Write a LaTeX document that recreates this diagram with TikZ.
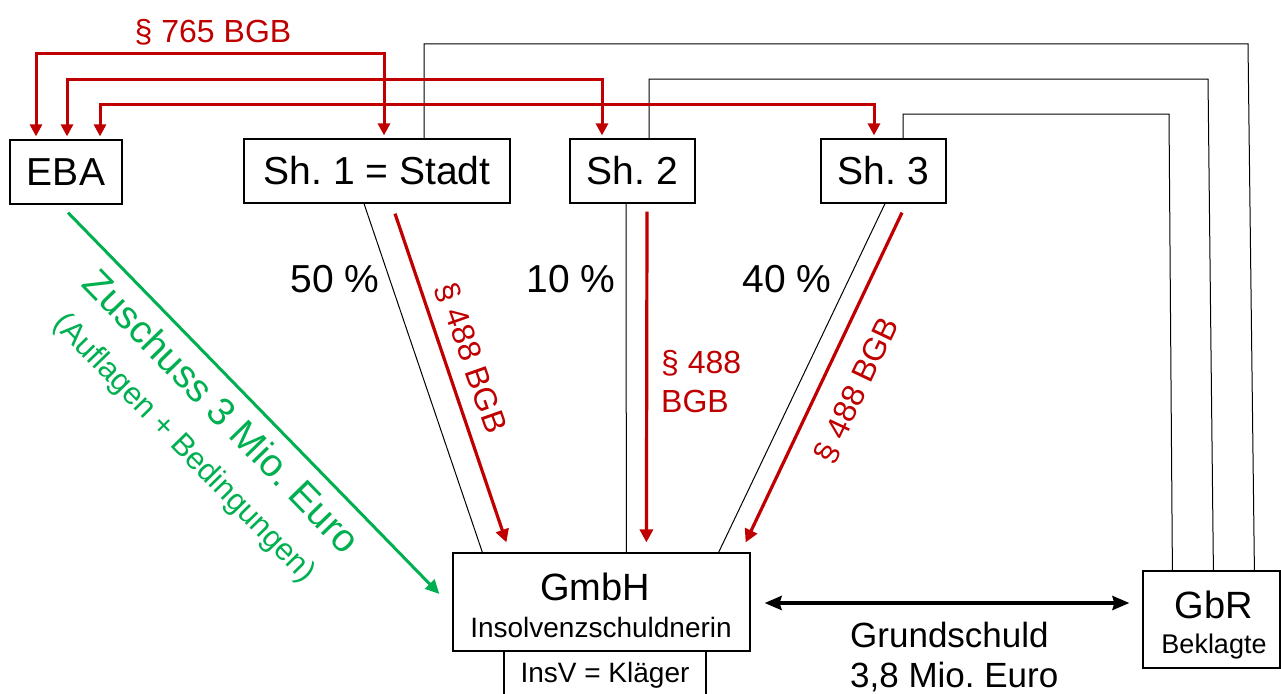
\documentclass[tikz,border=0pt]{standalone}
\usepackage{fontspec}
\setmainfont{Liberation Sans}
\usetikzlibrary{arrows.meta,calc}
\definecolor{dred}{RGB}{192,0,0}
\definecolor{dgreen}{RGB}{0,176,80}
\frenchspacing
\begin{document}
\begin{tikzpicture}[x=1pt,y=-1pt,
  box/.style={draw, line width=1.2pt, inner sep=0pt, minimum height=64pt},
  fbig/.style={font=\fontsize{39}{46}\selectfont},
  fmid/.style={font=\fontsize{35}{40}\selectfont},
  fsmall/.style={font=\fontsize{28}{33}\selectfont},
  fred/.style={font=\fontsize{32}{39}\selectfont, text=dred},
  lbl/.style={inner sep=0pt},
  thinline/.style={draw=black, line width=1pt},
  redtwo/.style={draw=dred, line width=3pt, {Triangle[length=12pt,width=12pt]}-{Triangle[length=12pt,width=12pt]}},
  redone/.style={draw=dred, line width=3.2pt, -{Triangle[length=13pt,width=13pt]}},
  greenarr/.style={draw=dgreen, line width=3pt, -{Triangle[length=14pt,width=13pt]}},
  blacktwo/.style={draw=black, line width=3.5pt, {Stealth[length=17pt,width=14pt,inset=2pt]}-{Stealth[length=17pt,width=14pt,inset=2pt]}}
]
\useasboundingbox (0,0) rectangle (1281,693);

% boxes
\node[box,fbig,minimum width=112pt] (EBA) at (66,172) {EBA};
\node[box,fbig,minimum width=266pt] (Sh1) at (377,171) {Sh. 1 = Stadt};
\node[box,fbig,minimum width=125pt] (Sh2) at (632.5,171) {Sh. 2};
\node[box,fbig,minimum width=125pt] (Sh3) at (883.5,171) {Sh. 3};
\node[box,minimum width=297pt,minimum height=98pt] (GmbH) at (601.5,602) {};
\node[box,minimum width=202pt,minimum height=60pt,anchor=north] (InsV) at (605,651) {};
\node[box,minimum width=137pt,minimum height=97pt] (GbR) at (1211.5,619.5) {};

% texts in boxes
\node[lbl,anchor=base,font=\fontsize{38}{44}\selectfont] (tGmbH) at (595,600) {GmbH};
\node[lbl,anchor=base,fsmall] (tIns) at (601,637) {Insolvenzschuldnerin};
\node[lbl,anchor=base,fsmall] (tInsV) at (605,682) {InsV = Kläger};
\node[lbl,anchor=base,font=\fontsize{38}{44}\selectfont] (tGbR) at (1214,618) {GbR};
\node[lbl,anchor=base,font=\fontsize{27}{32}\selectfont] (tBek) at (1214,653) {Beklagte};

% free labels
\node[lbl,anchor=base west,fmid] (tGr) at (850,647) {Grundschuld};
\node[lbl,anchor=base west,fmid] (tMio) at (850,687) {3,8 Mio. Euro};
\node[lbl,anchor=base,fbig] (p50) at (335,292) {50 \%};
\node[lbl,anchor=base,fbig] (p10) at (571,292) {10 \%};
\node[lbl,anchor=base,fbig] (p40) at (787,292) {40 \%};
\node[lbl,anchor=base,fred] (t765) at (213,42) {§ 765 BGB};
\node[lbl,fred,rotate=-70.6] (t488a) at (471,358) {§ 488 BGB};
\node[lbl,anchor=base west,fred,align=left] (t488b) at (661,412) {§ 488\\BGB};
\node[lbl,fred,rotate=64.6] (t488c) at (857,390) {§ 488 BGB};
\node[lbl,text=dgreen,rotate=-45.8,align=center,font=\fontsize{31}{48}\selectfont] (tZu) at (203,430)
  {{\fontsize{39}{46}\selectfont Zuschuss 3 Mio. Euro}\\(Auflagen + Bedingungen)};

% routing coordinates
\coordinate (cS1) at (1248,44);
\coordinate (cS2) at (1208,79);
\coordinate (cS3) at (1169,114);

% black lines to GbR
\draw[thinline] ($(Sh1.north)+(47,0)$) |- (cS1) -- ($(GbR.north west)+(112,0)$);
\draw[thinline] ($(Sh2.north)+(16.5,0)$) |- (cS2) -- ($(GbR.north west)+(71,0)$);
\draw[thinline] ($(Sh3.north)+(19.5,0)$) |- (cS3) -- ($(GbR.north west)+(30,0)$);

% black share lines
\draw[thinline] ($(Sh1.south)+(-13,0)$) -- ($(GmbH.north west)+(30,0)$);
\draw[thinline] ($(Sh2.south)+(-6.5,0)$) -- ($(GmbH.north west)+(174,0)$);
\draw[thinline] ($(Sh3.south)+(1.5,0)$) -- ($(GmbH.north east)+(-32,0)$);

% red 765 connectors
\draw[redtwo] ($(EBA.north)+(-30,-3)$) -- ($(EBA.north)+(-30,-86)$) -| ($(Sh1.north)+(7,-3)$);
\draw[redtwo] ($(EBA.north)+(1,-3)$) -- ($(EBA.north)+(1,-60)$) -| ($(Sh2.north)+(-30.5,-3)$);
\draw[redtwo] ($(EBA.north)+(34,-3)$) -- ($(EBA.north)+(34,-35)$) -| ($(Sh3.north)+(-9.5,-3)$);

% red 488 arrows
\draw[redone] ($(Sh1.south)+(18,10)$) -- ($(GmbH.north west)+(54,-10)$);
\draw[redone] ($(Sh2.south)+(14.5,8)$) -- ($(GmbH.north west)+(194,-10)$);
\draw[redone] ($(Sh3.south)+(18.5,9)$) -- ($(GmbH.north east)+(-5,-10)$);

% green
\draw[greenarr] ($(EBA.south)+(2,8)$) -- ($(GmbH.west)+(-13,-8)$);

% double arrow
\draw[blacktwo] ($(GmbH.east)+(14,1)$) -- ($(GbR.west)+(-13,-16.5)$);
\end{tikzpicture}
\end{document}
